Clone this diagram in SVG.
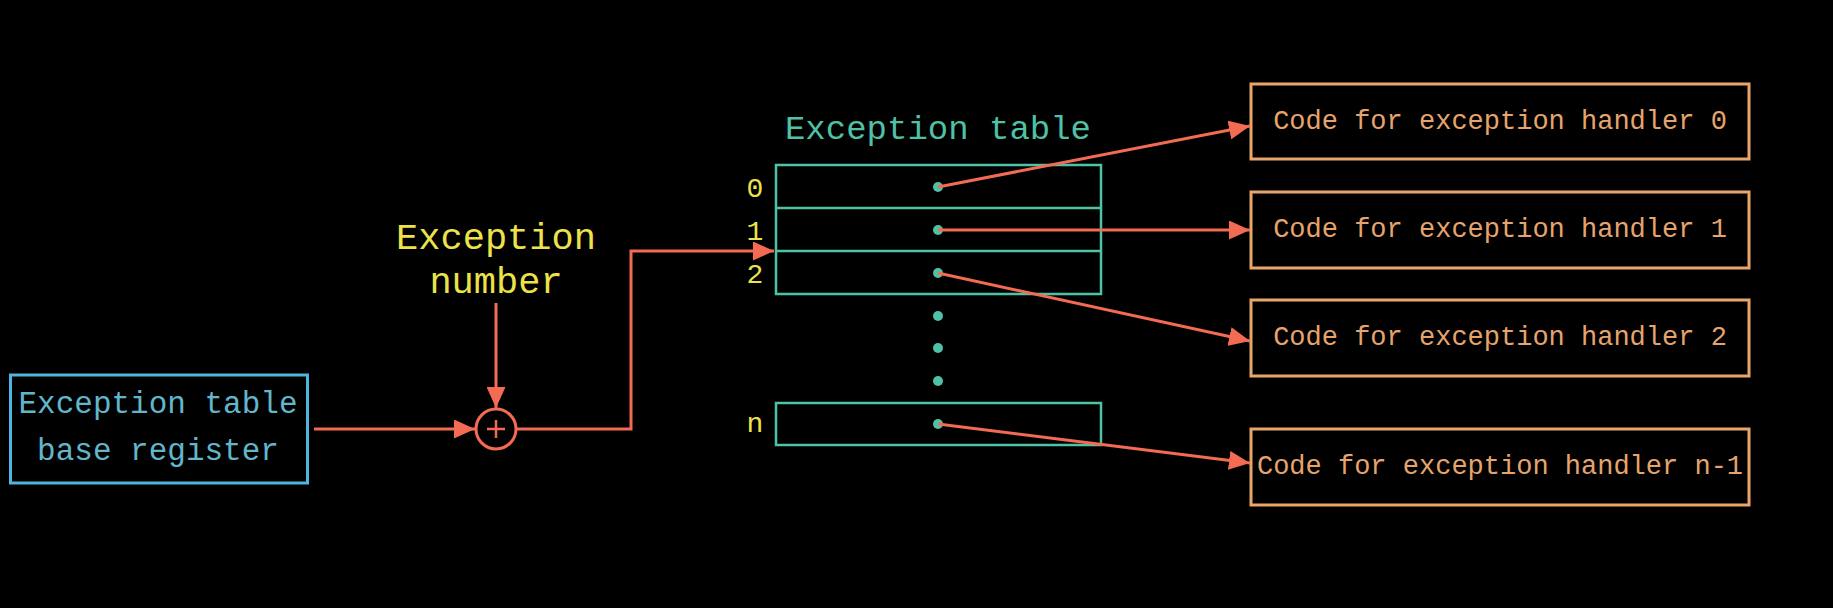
<svg xmlns="http://www.w3.org/2000/svg" width="1833" height="608" viewBox="0 0 1833 608">
<defs>
<style>
.mono{font-family:"Liberation Mono","DejaVu Sans Mono",monospace;}
.red{stroke:#f26b52;stroke-width:3;fill:none;}
.teal{stroke:#4fc1a6;stroke-width:2.5;fill:none;}
.dot{fill:#4fc1a6;}
.handler rect{stroke:#e9a66a;stroke-width:3;fill:none;}
.handler text{fill:#e6a46c;font-size:27px;text-anchor:middle;}
.idx{fill:#ece24a;font-size:28px;text-anchor:middle;}
</style>
<marker id="ah" markerUnits="userSpaceOnUse" markerWidth="21" markerHeight="19" refX="21" refY="9.5" orient="auto">
<path d="M0,0 L21,9.5 L0,19 z" fill="#f26b52"/>
</marker>
</defs>
<rect x="0" y="0" width="1833" height="608" fill="#000"/>

<g id="base-register">
<rect x="10.5" y="375" width="297" height="108" fill="none" stroke="#4cb6de" stroke-width="3"/>
<text class="mono" x="158" y="413" font-size="31" fill="#62b6cc" text-anchor="middle">Exception table</text>
<text class="mono" x="158" y="460" font-size="31" fill="#62b6cc" text-anchor="middle">base register</text>
</g>

<g id="exception-number">
<text class="mono" x="496" y="249" font-size="37" fill="#ece24a" text-anchor="middle">Exception</text>
<text class="mono" x="496" y="293" font-size="37" fill="#ece24a" text-anchor="middle">number</text>
</g>

<g id="adder">
<circle cx="496" cy="429" r="20" fill="none" stroke="#f26b52" stroke-width="3"/>
<path d="M487,429 H505 M496,420 V438" stroke="#f26b52" stroke-width="2.5"/>
</g>

<g id="exception-table">
<text class="mono" x="938" y="139" font-size="34" fill="#4fc1a6" text-anchor="middle">Exception table</text>
<rect class="teal" x="776" y="165" width="325" height="129"/>
<line class="teal" x1="776" y1="208" x2="1101" y2="208"/>
<line class="teal" x1="776" y1="251" x2="1101" y2="251"/>
<rect class="teal" x="776" y="403" width="325" height="42"/>
<circle class="dot" cx="938" cy="187" r="5"/>
<circle class="dot" cx="938" cy="230" r="5"/>
<circle class="dot" cx="938" cy="273" r="5"/>
<circle class="dot" cx="938" cy="316" r="5"/>
<circle class="dot" cx="938" cy="348" r="5"/>
<circle class="dot" cx="938" cy="381" r="5"/>
<circle class="dot" cx="938" cy="424" r="5"/>
<text class="mono idx" x="755" y="197">0</text>
<text class="mono idx" x="755" y="240">1</text>
<text class="mono idx" x="755" y="283">2</text>
<text class="mono idx" x="755" y="432">n</text>
</g>

<g id="handler-0" class="handler">
<rect x="1251" y="84" width="498" height="75"/>
<text class="mono" x="1500" y="129">Code for exception handler 0</text>
</g>
<g id="handler-1" class="handler">
<rect x="1251" y="192" width="498" height="76"/>
<text class="mono" x="1500" y="237">Code for exception handler 1</text>
</g>
<g id="handler-2" class="handler">
<rect x="1251" y="300" width="498" height="76"/>
<text class="mono" x="1500" y="345">Code for exception handler 2</text>
</g>
<g id="handler-n-1" class="handler">
<rect x="1251" y="429" width="498" height="76"/>
<text class="mono" x="1500" y="474">Code for exception handler n-1</text>
</g>

<g id="connectors">
<line class="red" x1="314" y1="429" x2="475" y2="429" marker-end="url(#ah)"/>
<line class="red" x1="496" y1="303" x2="496" y2="408" marker-end="url(#ah)"/>
<polyline class="red" points="517,429 631,429 631,251 774,251" marker-end="url(#ah)"/>
<line class="red" x1="938" y1="187" x2="1250" y2="126" marker-end="url(#ah)"/>
<line class="red" x1="938" y1="230" x2="1250" y2="230" marker-end="url(#ah)"/>
<line class="red" x1="938" y1="273" x2="1250" y2="341" marker-end="url(#ah)"/>
<line class="red" x1="938" y1="424" x2="1250" y2="463" marker-end="url(#ah)"/>
</g>
</svg>
